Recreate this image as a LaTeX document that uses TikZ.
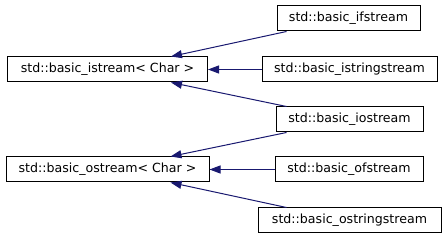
\documentclass[tikz,border=0pt]{standalone}
\usepackage{fontspec}
\setmainfont{DejaVu Sans}
\usetikzlibrary{arrows.meta}
\definecolor{edgeblue}{RGB}{25,25,112}
\tikzset{
  cls/.style={draw=black, line width=1pt, fill=white, rectangle, inner sep=0pt,
    minimum height=25pt, font=\fontsize{12.6}{14}\selectfont},
  inherit/.style={draw=edgeblue, line width=1pt,
    -{Triangle[length=11pt, width=8pt, fill=edgeblue]}},
}
\begin{document}
\begin{tikzpicture}[x=1pt, y=-1pt]
  \useasboundingbox (0,0) rectangle (445,240);
  % base classes
  \node[cls, minimum width=200pt] (istream) at (107.5,69.5) {std::basic\_istream< Char >};
  \node[cls, minimum width=203pt] (ostream) at (107.5,169.5) {std::basic\_ostream< Char >};
  % derived classes
  \node[cls, minimum width=143pt] (ifstream) at (348.5,18.5) {std::basic\_ifstream};
  \node[cls, minimum width=175pt] (isstream) at (349.5,69.5) {std::basic\_istringstream};
  \node[cls, minimum width=147pt] (iostream) at (349.5,119.5) {std::basic\_iostream};
  \node[cls, minimum width=148pt] (ofstream) at (349,169.5) {std::basic\_ofstream};
  \node[cls, minimum width=183pt] (osstream) at (349.5,220.5) {std::basic\_ostringstream};
  % inheritance edges
  \draw[inherit] ([xshift=10pt]ifstream.south west) -- ([xshift=-37pt]istream.north east);
  \draw[inherit] (isstream.west) -- (istream.east);
  \draw[inherit] ([xshift=11pt]iostream.north west) -- ([xshift=-37pt]istream.south east);
  \draw[inherit] ([xshift=11pt]iostream.south west) -- ([xshift=-39pt]ostream.north east);
  \draw[inherit] (ofstream.west) -- (ostream.east);
  \draw[inherit] ([xshift=29pt]osstream.north west) -- ([xshift=-39pt]ostream.south east);
\end{tikzpicture}
\end{document}
